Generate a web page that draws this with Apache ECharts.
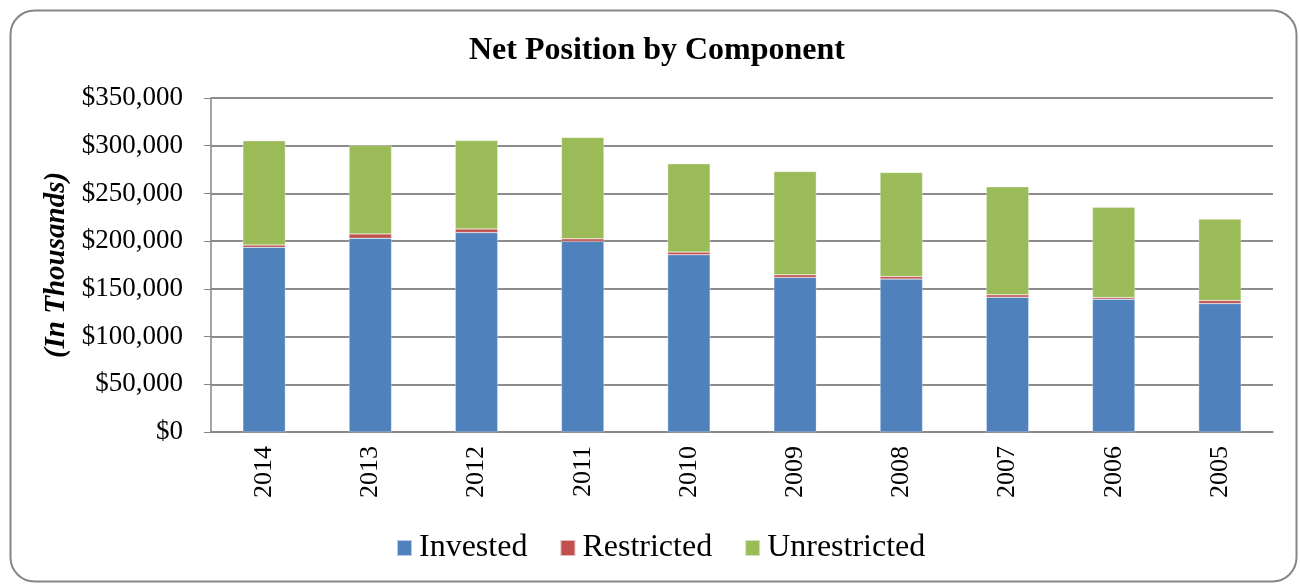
<!DOCTYPE html>
<html>
<head>
<meta charset="utf-8">
<script src="https://cdn.jsdelivr.net/npm/echarts@6/dist/echarts.min.js"></script>
<style>
  html, body { margin: 0; padding: 0; background: #fff; }
  #chart { width: 1300px; height: 585px; }
</style>
</head>
<body>
<div id="chart"></div>
<script>
const years = ['2014', '2013', '2012', '2011', '2010', '2009', '2008', '2007', '2006', '2005']
const invested = [193500, 203000, 209000, 199700, 185800, 162000, 160200, 141300, 139200, 134600]
const restricted = [2500, 4600, 3800, 2700, 2700, 2700, 2800, 2400, 1700, 3100]
const unrestricted = [109300, 92700, 92700, 106300, 92600, 108300, 109000, 113300, 94700, 85400]
const yTicks = [0, 50000, 100000, 150000, 200000, 250000, 300000, 350000]

const font = 'Liberation Serif, Times New Roman, serif'
const chart = echarts.init(document.getElementById('chart'))

const money = v => '$' + v.toLocaleString('en-US')

const barSeries = (name, data, color) => ({
    name: name,
    type: 'bar',
    stack: 'total',
    data: data,
    barWidth: '40%',
    itemStyle: { color: color, borderColor: 'rgba(255,255,255,0.6)', borderWidth: 0.5 }
})

const option = {
    animation: false,
    backgroundColor: '#fff',
    graphic: [{
        type: 'rect',
        left: 8, top: 8,
        shape: { width: 1286, height: 571, r: 24 },
        style: { fill: 'none', stroke: '#868686', lineWidth: 2 },
        z: -10
    }],
    title: {
        text: 'Net Position by Component',
        left: 652,
        textAlign: 'center',
        top: 30,
        textStyle: { fontFamily: font, fontSize: 32, fontWeight: 'bold', color: '#000' }
    },
    legend: {
        bottom: 16,
        left: 391,
        itemWidth: 15,
        itemHeight: 16,
        itemGap: 32,
        icon: 'rect',
        textStyle: { fontFamily: font, fontSize: 32, color: '#000', padding: [0, 0, 0, 2] },
        data: ['Invested', 'Restricted', 'Unrestricted']
    },
    grid: { left: 211, right: 27, top: 98, bottom: 153 },
    xAxis: {
        type: 'category',
        data: years,
        axisLine: { lineStyle: { color: '#868686', width: 1.5 } },
        axisTick: { show: false },
        axisLabel: { rotate: 90, fontFamily: font, fontSize: 26, color: '#000', margin: 14 }
    },
    yAxis: {
        type: 'value',
        min: 0,
        max: 350000,
        interval: 50000,
        name: '(In Thousands)',
        nameLocation: 'middle',
        nameGap: 140,
        nameRotate: 90,
        nameTextStyle: { fontFamily: font, fontSize: 29, fontWeight: 'bold', fontStyle: 'italic', color: '#000' },
        axisLine: { show: true, lineStyle: { color: '#868686', width: 1.5 } },
        axisTick: { show: true, length: 7, lineStyle: { color: '#868686' } },
        splitLine: { lineStyle: { color: '#8c8c8c', width: 2 } },
        axisLabel: {
            fontFamily: font, fontSize: 27, color: '#000', margin: 28,
            formatter: v => yTicks.includes(v) ? money(v) : ''
        }
    },
    series: [
        barSeries('Invested', invested, '#4F81BD'),
        barSeries('Restricted', restricted, '#C0504D'),
        barSeries('Unrestricted', unrestricted, '#9BBB59')
    ]
}

chart.setOption(option)
</script>
</body>
</html>
